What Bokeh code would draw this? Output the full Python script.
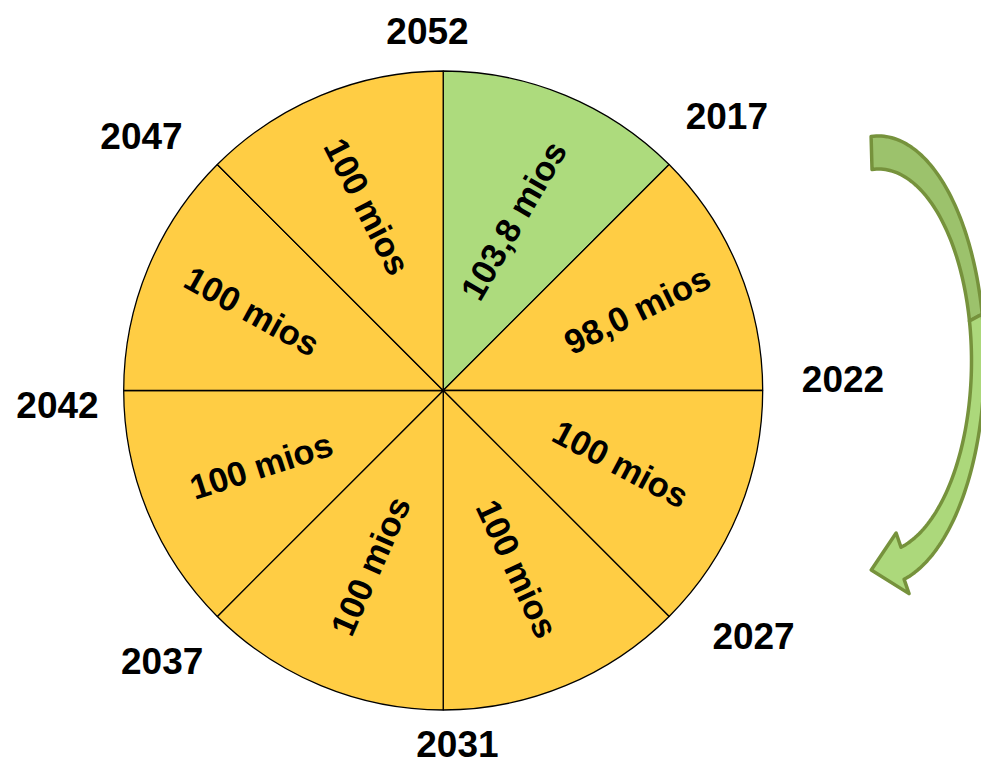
import numpy as np
from bokeh.plotting import figure
from bokeh.models import Range1d, ColumnDataSource
from bokeh.core.properties import value
from bokeh.embed import file_html
from bokeh.resources import INLINE

# ---------------- data ----------------
boundary_years = ["2052", "2017", "2022", "2027", "2031", "2037", "2042", "2047"]
period_values = [103.8, 98.0, 100, 100, 100, 100, 100, 100]
period_labels = ["103,8 mios", "98,0 mios", "100 mios", "100 mios",
                 "100 mios", "100 mios", "100 mios", "100 mios"]
period_colors = ["#ADDB7D", "#FFCD44", "#FFCD44", "#FFCD44",
                 "#FFCD44", "#FFCD44", "#FFCD44", "#FFCD44"]

# ---------------- layout (pixels / degrees) ----------------
W, H = 981, 769
PAGE_OFF_X, PAGE_OFF_Y = 0, 769          # screen -> data conversion
CX, CY = 442.7 - PAGE_OFF_X, PAGE_OFF_Y - 390.0
R = 319.5
# year labels: polar placement around the pie
year_angle_deg = [92.5, 44.1, 1.7, -38.4, -87.7, 223.9, 182.2, 139.8]
year_radius = [360, 395, 400, 396, 354, 390, 386, 395]
# period labels: radius and rotation
label_radius = [184, 210, 192, 193, 190, 197, 207, 199]
label_rotation_deg = [60, 26, -28, -65, 66, 18, -29, -63]

n = len(period_values)
step = 360.0 / n
end_deg = [90 - step * i for i in range(n)]
start_deg = [90 - step * (i + 1) for i in range(n)]
mid_deg = [(a + b) / 2 for a, b in zip(start_deg, end_deg)]

p = figure(width=W, height=H, x_range=Range1d(0, W), y_range=Range1d(0, H),
           output_backend="svg", toolbar_location=None, min_border=0,
           background_fill_color="white", border_fill_color="white")
p.axis.visible = False
p.grid.visible = False
p.outline_line_color = None

pie = ColumnDataSource(dict(
    start=np.radians(start_deg), end=np.radians(end_deg),
    color=period_colors, value=period_values))
p.wedge(x=CX, y=CY, radius=R, start_angle="start", end_angle="end",
        fill_color="color", line_color="black", line_width=1.3, source=pie)

# period labels
mid = np.radians(mid_deg)
lab = ColumnDataSource(dict(
    x=CX + np.array(label_radius) * np.cos(mid),
    y=CY + np.array(label_radius) * np.sin(mid),
    text=period_labels,
    angle=np.radians(label_rotation_deg)))
p.text(x="x", y="y", text="text", angle="angle", source=lab,
       text_font=value("Liberation Sans"), text_font_style="bold",
       text_font_size=value("34.5px"), text_color="black",
       text_align="center", text_baseline="middle")

# year labels
ya = np.radians(year_angle_deg)
yl = ColumnDataSource(dict(
    x=CX + np.array(year_radius) * np.cos(ya),
    y=CY + np.array(year_radius) * np.sin(ya),
    text=boundary_years))
p.text(x="x", y="y", text="text", source=yl,
       text_font=value("Liberation Sans"), text_font_style="bold",
       text_font_size=value("37px"), text_color="black",
       text_align="center", text_baseline="middle")

# ---------------- curved arrow (decoration) ----------------
acx, acy = 878 - PAGE_OFF_X, PAGE_OFF_Y - 360.5
A_out, B_out = 106, 225
A_in, B_in = 93, 192
phi_start, phi_split, phi_end = 94.0, 12.0, -76.0


def edge(A, B, a0, a1, num=60):
    t = np.radians(np.linspace(a0, a1, num))
    return acx + A * np.cos(t), acy + B * np.sin(t)


# dark back part
ox, oy = edge(A_out, B_out, phi_start, phi_split)
ix, iy = edge(A_in, B_in, phi_split, phi_start)
p.patch(np.concatenate([ox, ix]), np.concatenate([oy, iy]),
        fill_color="#9CC26C", line_color="#76923C", line_width=3.5,
        line_join="round")

# light front part with head
ox, oy = edge(A_out, B_out, phi_split, phi_end)
ix, iy = edge(A_in, B_in, phi_end, phi_split)
base_mid = np.array([(ox[-1] + ix[0]) / 2, (oy[-1] + iy[0]) / 2])
hd = np.radians(12)
d = np.array([-np.cos(hd), -np.sin(hd)])
nrm = np.array([np.sin(hd), -np.cos(hd)])
wing_out = base_mid + 31 * nrm
wing_in = base_mid - 31 * nrm
tip = base_mid + 32 * d
hx = [wing_out[0], tip[0], wing_in[0]]
hy = [wing_out[1], tip[1], wing_in[1]]
p.patch(np.concatenate([ox, hx, ix]), np.concatenate([oy, hy, iy]),
        fill_color="#ACD87B", line_color="#76923C", line_width=3.5,
        line_join="round")

open("out.html", "w").write(file_html(p, INLINE))
